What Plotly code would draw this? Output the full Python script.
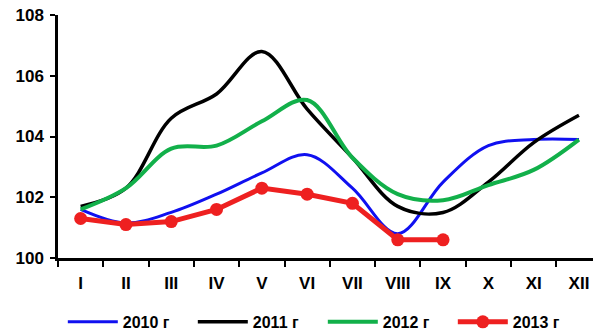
import plotly.graph_objects as go

months = ["I", "II", "III", "IV", "V", "VI", "VII", "VIII", "IX", "X", "XI", "XII"]
y2010 = [101.6, 101.15, 101.5, 102.1, 102.8, 103.4, 102.3, 100.8, 102.5, 103.7, 103.9, 103.9]
y2011 = [101.7, 102.3, 104.6, 105.4, 106.8, 104.9, 103.3, 101.7, 101.5, 102.5, 103.8, 104.7]
y2012 = [101.6, 102.3, 103.6, 103.7, 104.5, 105.2, 103.3, 102.1, 101.9, 102.4, 102.9, 103.9]
y2013 = [101.3, 101.1, 101.2, 101.6, 102.3, 102.1, 101.8, 100.6, 100.6]
names = ["2010 г", "2011 г", "2012 г", "2013 г"]

FONT = "Liberation Sans, Arial, sans-serif"

fig = go.Figure()
fig.add_trace(go.Scatter(x=months, y=y2010, name=names[0], mode="lines",
                         line=dict(color="#1010f0", width=3, shape="spline", smoothing=1)))
fig.add_trace(go.Scatter(x=months, y=y2011, name=names[1], mode="lines",
                         line=dict(color="#000000", width=3.5, shape="spline", smoothing=1)))
fig.add_trace(go.Scatter(x=months, y=y2012, name=names[2], mode="lines",
                         line=dict(color="#12b04a", width=4, shape="spline", smoothing=1)))
fig.add_trace(go.Scatter(x=months[:len(y2013)], y=y2013, name=names[3], mode="lines+markers",
                         line=dict(color="#ee2020", width=5),
                         marker=dict(color="#ee2020", size=13)))

fig.update_layout(
    width=593, height=335,
    margin=dict(l=58, r=0, t=15, b=77, autoexpand=False),
    paper_bgcolor="white", plot_bgcolor="white",
    font=dict(family=FONT, color="black"),
    showlegend=True,
    legend=dict(orientation="h", x=0.009, xanchor="left", y=-0.263, yanchor="middle",
                entrywidth=65, font=dict(size=16, weight="bold", family=FONT),
                itemwidth=50, tracegroupgap=0),
    xaxis=dict(type="category", range=[-0.5, 11.31], showgrid=False, automargin=False,
               showline=True, linecolor="black", linewidth=2.5,
               ticks="outside", tickson="boundaries", ticklen=6, tickwidth=2, tickcolor="black",
               ticklabelstandoff=8, ticklabeloverflow="allow",
               tickfont=dict(size=17, weight="bold", family=FONT), zeroline=False),
    yaxis=dict(range=[100, 108], dtick=2, showgrid=False, zeroline=False, automargin=False,
               showline=True, linecolor="black", linewidth=2.5,
               ticks="outside", ticklen=5, tickwidth=2, tickcolor="black",
               ticklabelstandoff=3, ticklabeloverflow="allow",
               tickfont=dict(size=17, weight="bold", family=FONT)),
)

fig.write_html("out.html", config={"displayModeBar": False},
               post_script="document.body.style.margin='0';document.body.style.overflow='hidden';")
